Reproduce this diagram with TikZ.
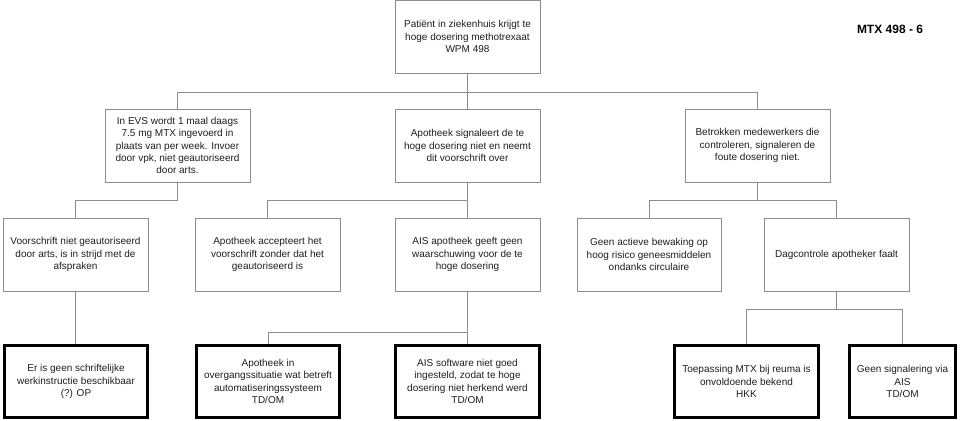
\documentclass[tikz,border=0pt]{standalone}
\usepackage{fontspec}
\setmainfont{Liberation Sans}
\usepackage{tikz}
\definecolor{linegray}{RGB}{140,140,140}
\definecolor{textgray}{RGB}{30,30,30}
\tikzset{
	box/.style={draw=linegray, line width=0.9pt, rectangle, align=center, text=textgray,
		minimum width=145pt, minimum height=73pt, inner sep=2pt,
		font=\fontsize{10}{12.3}\selectfont},
	basic/.style={box, draw=black, line width=2.6pt, minimum width=143.5pt, minimum height=72.5pt},
	conn/.style={draw=linegray, line width=0.9pt}
}

\begin{document}
\begin{tikzpicture}[x=1pt,y=1pt]
	\useasboundingbox (0,0) rectangle (960,-420);

	\node[box] (t) at (467.5,-36.5) {Patiënt in ziekenhuis krijgt te\\hoge dosering methotrexaat\\WPM 498};
	\node[font=\fontsize{12}{14}\selectfont\bfseries] (title) at (890,-29) {MTX 498 - 6};

	\node[box] (a1) at (177.5,-145.5) {In EVS wordt 1 maal daags\\7.5 mg MTX ingevoerd in\\plaats van per week. Invoer\\door vpk, niet geautoriseerd\\door arts.};
	\node[box] (a2) at (467.5,-145.5) {Apotheek signaleert de te\\hoge dosering niet en neemt\\dit voorschrift over};
	\node[box] (a3) at (757.5,-145.5) {Betrokken medewerkers die\\controleren, signaleren de\\foute dosering niet.};

	\node[box] (b1) at (75.5,-254.5) {Voorschrift niet geautoriseerd\\door arts, is in strijd met de\\afspraken};
	\node[box] (b2) at (267.5,-254.5) {Apotheek accepteert het\\voorschrift zonder dat het\\geautoriseerd is};
	\node[box] (b3) at (467.5,-254.5) {AIS apotheek geeft geen\\waarschuwing voor de te\\hoge dosering};
	\node[box, minimum width=144pt] (b4) at (649,-254.5) {Geen actieve bewaking op\\hoog risico geneesmiddelen\\ondanks circulaire};
	\node[box] (b5) at (836.5,-254.5) {Dagcontrole apotheker faalt};

	\node[basic] (c1) at (76,-381.5) {Er is geen schriftelijke\\werkinstructie beschikbaar\\(?) OP};
	\node[basic] (c2) at (268,-381.5) {Apotheek in\\overgangssituatie wat betreft\\automatiseringssysteem\\TD/OM};
	\node[basic] (c3) at (467.5,-381.5) {AIS software niet goed\\ingesteld, zodat te hoge\\dosering niet herkend werd\\TD/OM};
	\node[basic, minimum width=144.5pt] (c4) at (746.5,-381.5) {Toepassing MTX bij reuma is\\onvoldoende bekend\\HKK};
	\node[basic, minimum width=106.5pt] (c5) at (902.5,-381.5) {Geen signalering via\\AIS\\TD/OM};

	% tree
	\draw[conn] (t.south) -- ++(0,-18.5) coordinate (jt);
	\draw[conn] (jt) -| (a1.north);
	\draw[conn] (jt) -| (a3.north);
	\draw[conn] (jt) -- (a2.north);

	\draw[conn] (a1.south) -- ++(0,-18) -| (b1.north);
	\draw[conn] (a2.south) -- ++(0,-18) coordinate (ja);
	\draw[conn] (ja) -| (b2.north);
	\draw[conn] (ja) -- (b3.north);
	\draw[conn] (a3.south) -- ++(0,-18) coordinate (jc);
	\draw[conn] (jc) -| (b4.north);
	\draw[conn] (jc) -| (b5.north);

	\draw[conn] (b1.south) -- (b1.south |- c1.north);
	\draw[conn] (b3.south) -- ++(0,-41) coordinate (jb);
	\draw[conn] (jb) -| (c2.north);
	\draw[conn] (jb) -- (c3.north);
	\draw[conn] (b5.south) -- ++(0,-18) coordinate (je);
	\draw[conn] (je) -| (c4.north);
	\draw[conn] (je) -| (c5.north);
\end{tikzpicture}
\end{document}
